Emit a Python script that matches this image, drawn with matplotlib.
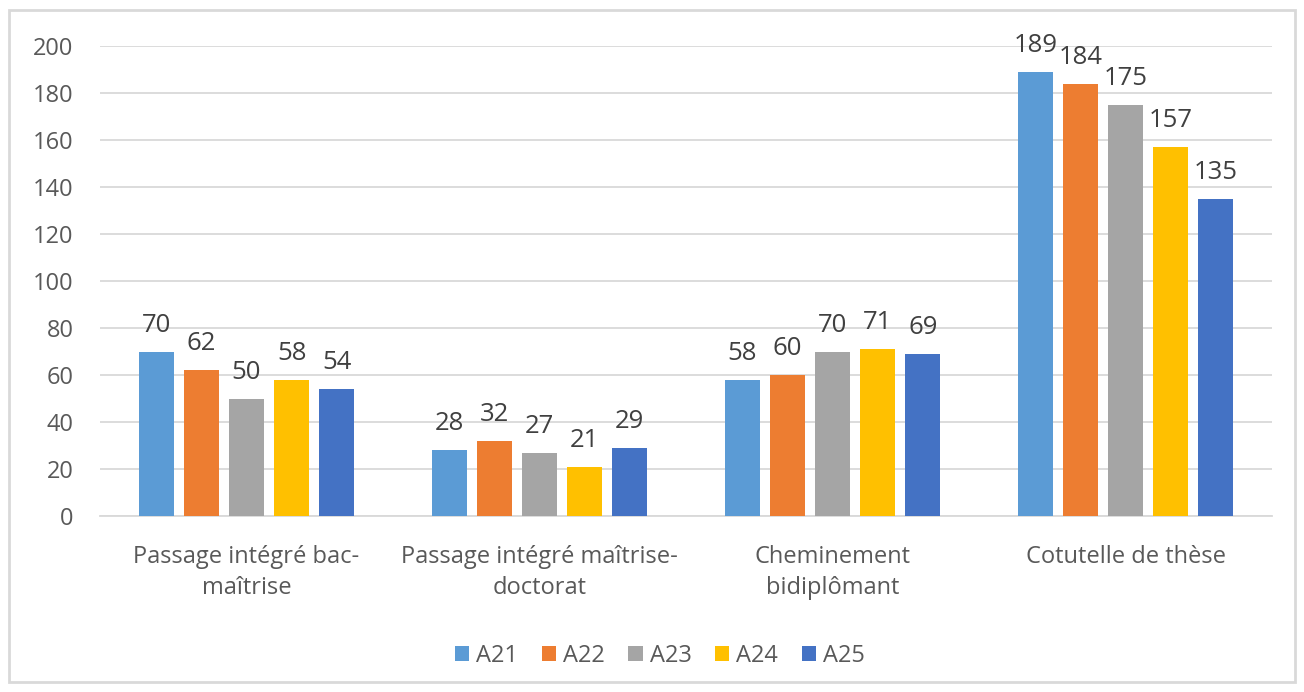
import matplotlib.pyplot as plt
import numpy as np
from matplotlib.patches import Rectangle

categories = ['Passage intégré bac-\nmaîtrise', 'Passage intégré maîtrise-\ndoctorat',
              'Cheminement\nbidiplômant', 'Cotutelle de thèse']
series = ['A21', 'A22', 'A23', 'A24', 'A25']
a21 = [70, 28, 58, 189]
a22 = [62, 32, 60, 184]
a23 = [50, 27, 70, 175]
a24 = [58, 21, 71, 157]
a25 = [54, 29, 69, 135]
colors = ['#5b9bd5', '#ed7d31', '#a5a5a5', '#ffc000', '#4472c4']

plt.rcParams['font.family'] = ['Open Sans', 'DejaVu Sans']
txt = '#595959'

fig = plt.figure(figsize=(13.04, 6.92), dpi=100)
fig.patches.append(Rectangle((9/1304, 10/692), 1286/1304, 672/692, transform=fig.transFigure,
                             fill=False, edgecolor='#d9d9d9', linewidth=2))
ax = fig.add_axes([100/1304, 1 - 516/692, 1172/1304, 470/692])

x = np.arange(len(categories))
step = 0.154
width = 0.12
for i, (name, vals) in enumerate(zip(series, [a21, a22, a23, a24, a25])):
    pos = x + (i - 2) * step
    bars = ax.bar(pos, vals, width, color=colors[i], label=name, zorder=3)
    for b, v in zip(bars, vals):
        ax.annotate(str(v), (b.get_x() + b.get_width() / 2, v), xytext=(0, 10),
                    textcoords='offset points', ha='center', va='bottom',
                    fontsize=18.5, color='#404040')

ax.set_xlim(-0.5, 3.5)
ax.set_ylim(0, 200)
ax.set_yticks(range(0, 201, 20))
ax.yaxis.grid(True, color='#d9d9d9', linewidth=1.3, zorder=0)
ax.set_xticks(x)
ax.set_xticklabels(categories, fontsize=17, color=txt, linespacing=1.4)
ax.tick_params(axis='y', labelsize=17, labelcolor=txt, length=0, pad=19)
ax.tick_params(axis='x', length=0, pad=21)
for s in ['top', 'right', 'left']:
    ax.spines[s].set_visible(False)
ax.spines['bottom'].set_color('#d9d9d9')
ax.spines['bottom'].set_linewidth(1.3)

fig.legend(loc='center', bbox_to_anchor=(660/1304, 1 - 656/692), ncol=5, frameon=False,
           fontsize=17, labelcolor=txt, handlelength=0.6, handleheight=0.6,
           handletextpad=0.3, columnspacing=1.0)

fig.savefig('out.png', dpi=100)
